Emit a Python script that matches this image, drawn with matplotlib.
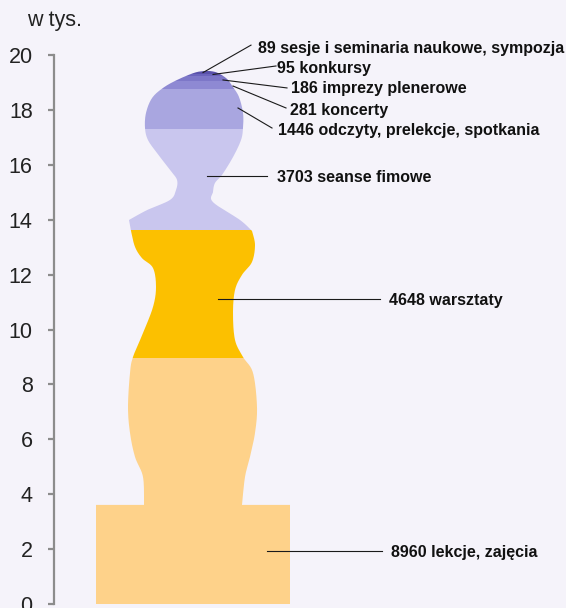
import numpy as np
import matplotlib
matplotlib.use("Agg")
import matplotlib.pyplot as plt
from matplotlib.path import Path
from matplotlib.patches import PathPatch

plt.rcParams["font.family"] = ["Liberation Sans", "DejaVu Sans"]

# ---- data (thousands of events, stacked bottom -> top) ----
categories = [
    "lekcje, zajęcia",
    "warsztaty",
    "seanse fimowe",
    "odczyty, prelekcje, spotkania",
    "koncerty",
    "imprezy plenerowe",
    "konkursy",
    "sesje i seminaria naukowe, sympozja",
]
counts = [8960, 4648, 3703, 1446, 281, 186, 95, 89]
colors = ["#FED28A", "#FCC000", "#C9C6EE", "#A9A6E0",
          "#8E89D3", "#7D77C8", "#6B64BC", "#5A52AB"]
yticks = [0, 2, 4, 6, 8, 10, 12, 14, 16, 18, 20]

# ---- silhouette outline (decoration, x in px, y in axis units) ----
BASE = (96, 290, 3.61)
right_lower = [(242, 3.61), (245, 4.63), (250, 5.36), (255, 6.23), (257, 7.18),
               (253, 8.42), (243, 9.00), (235, 9.62), (233, 10.60), (235, 11.44),
               (242, 11.99), (252, 12.46), (255, 13.08), (252, 13.59)]
right_upper = [(252, 13.59), (240, 13.99), (213, 14.64), (213, 15.01), (215, 15.34),
               (222, 15.63), (233, 16.28), (241, 16.90), (243, 17.34), (243, 17.89),
               (239, 18.47), (233, 18.83), (227, 19.13), (217, 19.36), (207, 19.43)]
left_upper = [(207, 19.43), (195, 19.36), (177, 19.09), (163, 18.80), (152, 18.43),
              (146, 17.89), (145, 17.34), (148, 16.90), (157, 16.43), (170, 15.81),
              (177, 15.45), (176, 15.08), (170, 14.72), (147, 14.35), (129, 13.99)]
left_lower = [(129, 13.99), (131, 13.59), (135, 13.01), (142, 12.60), (153, 12.24),
              (156, 11.55), (153, 10.82), (143, 9.87), (133, 9.00), (130, 8.42),
              (128, 7.18), (130, 6.23), (135, 5.36), (143, 4.63), (144, 3.61)]

# label layout: leader start (x, y), leader end (x, y), text (x, baseline y)
leaders = [
    ((267, 1.93), (382, 1.93), (391, 1.72)),
    ((218, 11.11), (380, 11.11), (389, 10.89)),
    ((207, 15.59), (267, 15.59), (277, 15.37)),
    ((238, 18.07), (272, 17.34), (278, 17.10)),
    ((233, 18.87), (286, 18.07), (290, 17.80)),
    ((223, 19.09), (287, 18.80), (291, 18.60)),
    ((213, 19.29), (276, 19.60), (277, 19.33)),
    ((203, 19.36), (251, 20.36), (258, 20.09)),
]


def smooth(points, n=16):
    """Catmull-Rom curve through the given points."""
    pts = np.asarray(points, float)
    p = np.vstack([pts[0], pts, pts[-1]])
    out = []
    t = np.linspace(0, 1, n, endpoint=False)[:, None]
    for i in range(1, len(p) - 2):
        p0, p1, p2, p3 = p[i - 1], p[i], p[i + 1], p[i + 2]
        out.append(0.5 * (2 * p1 + (-p0 + p2) * t
                          + (2 * p0 - 5 * p1 + 4 * p2 - p3) * t ** 2
                          + (-p0 + 3 * p1 - 3 * p2 + p3) * t ** 3))
    out.append(pts[-1:])
    return np.vstack(out)


bg = "#F5F3FA"
fig = plt.figure(figsize=(5.66, 6.08), dpi=100, facecolor=bg)
ax = fig.add_axes([53.5 / 566, 4 / 608, (566 - 53.5) / 566, 549 / 608])
ax.set_facecolor(bg)
ax.set_xlim(53.5, 566)
ax.set_ylim(0, 20)

outline = np.vstack([
    [(BASE[0], 0), (BASE[1], 0), (BASE[1], BASE[2])],
    smooth(right_lower), smooth(right_upper), smooth(left_upper), smooth(left_lower),
    [(BASE[0], BASE[2]), (BASE[0], 0)],
])
clip = PathPatch(Path(outline), facecolor="none", edgecolor="none", transform=ax.transData)
ax.add_patch(clip)

values = np.array(counts) / 1000.0
bottoms = np.concatenate([[0], np.cumsum(values)[:-1]])
bars = ax.bar(193, values, bottom=bottoms, width=220, color=colors, linewidth=0)
for b in bars:
    b.set_clip_path(clip)

for cat, n, (p0, p1, pt) in zip(categories, counts, leaders):
    ax.plot([p0[0], p1[0]], [p0[1], p1[1]], color="#1a1a1a", lw=0.8, clip_on=False)
    ax.text(pt[0], pt[1], f"{n} {cat}", fontsize=11.5, fontweight="bold",
            color="#111111", va="baseline", ha="left", clip_on=False)

for s in ["top", "right", "bottom"]:
    ax.spines[s].set_visible(False)
ax.spines["left"].set_color("#8c8c8c")
ax.spines["left"].set_linewidth(1.6)
ax.set_xticks([])
ax.set_yticks(yticks)
ax.set_yticklabels([str(v) for v in yticks])
ax.tick_params(axis="y", length=4.5, width=1.6, color="#8c8c8c",
               pad=10.5, labelsize=15.5, labelcolor="#222222")

fig.text(27 / 566, 1 - 26 / 608, "w tys.", fontsize=15.5, color="#222222",
         ha="left", va="baseline")

fig.savefig("out.png", dpi=100, facecolor=bg)
